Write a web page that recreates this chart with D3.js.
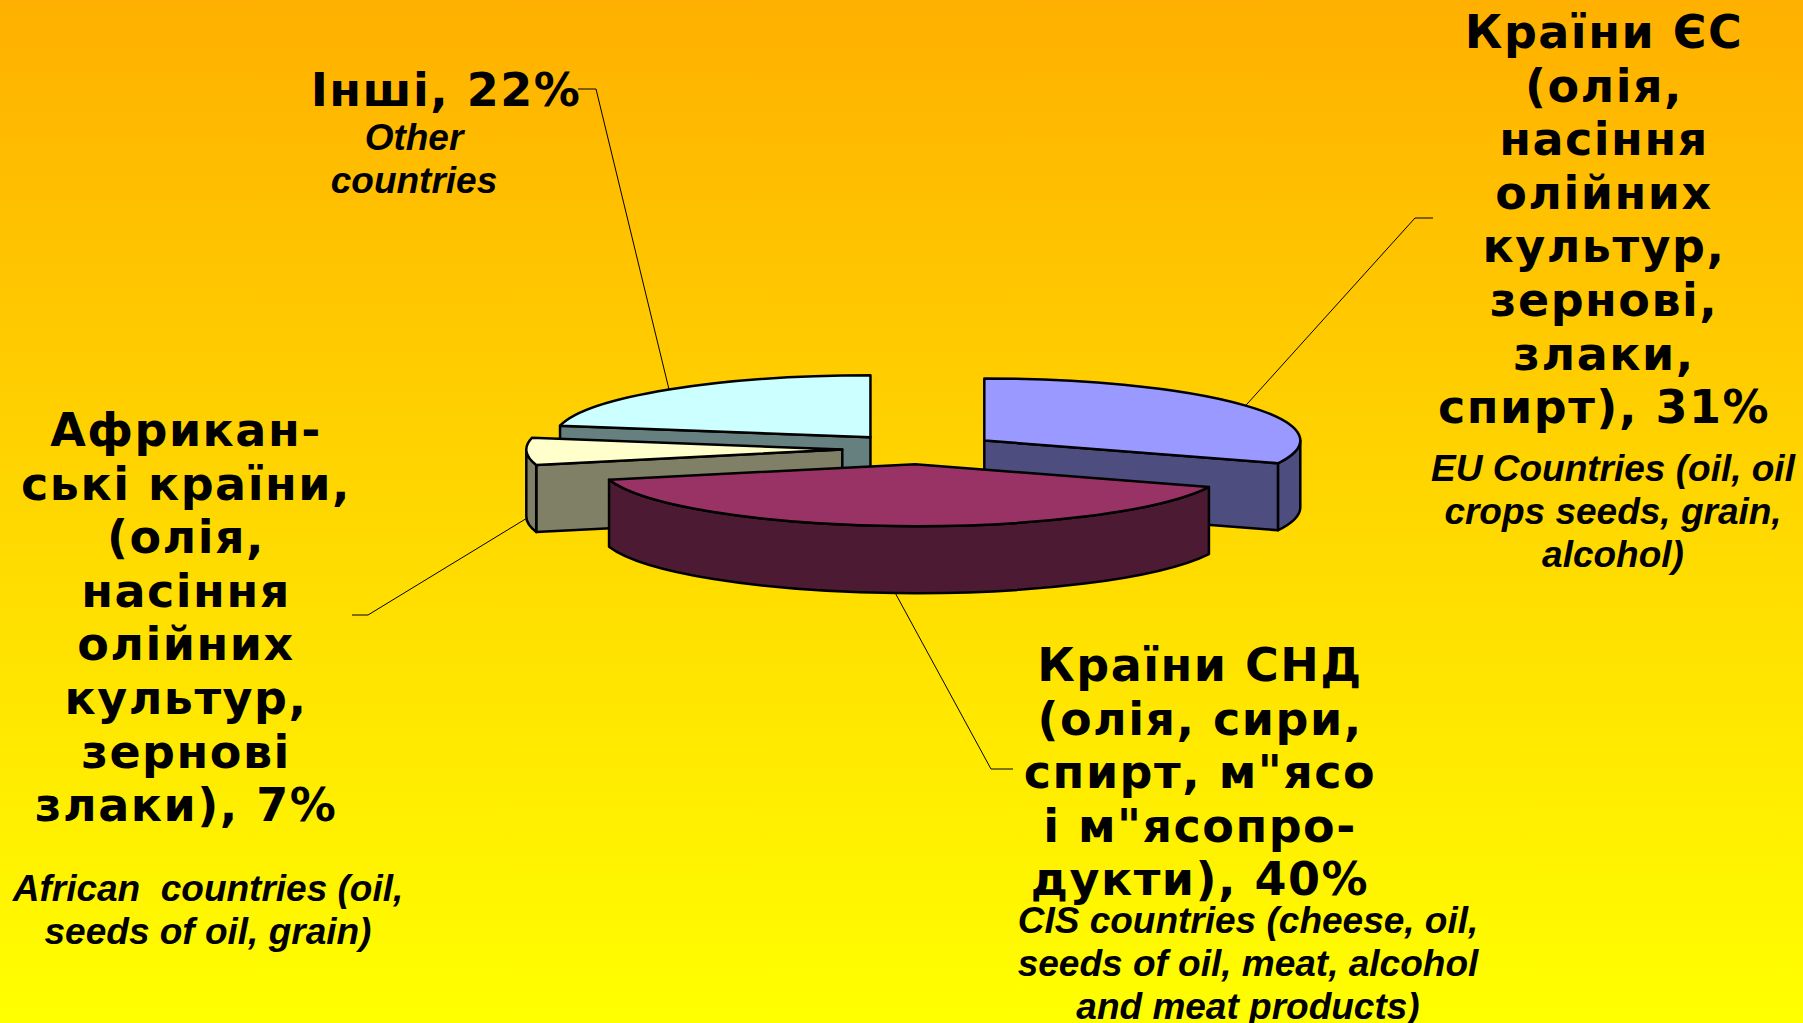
<!DOCTYPE html>
<html>
<head>
<meta charset="utf-8">
<script src="https://cdn.jsdelivr.net/npm/d3@7"></script>
<style>
  html, body { margin: 0; padding: 0; overflow: hidden; }
  .ua { font-family: "DejaVu Sans", sans-serif; font-weight: bold; font-size: 46px; letter-spacing: 1.5px; }
  .en { font-family: "Liberation Sans", Arial, sans-serif; font-weight: bold; font-style: italic; font-size: 37px; white-space: pre; }
</style>
</head>
<body>
<div id="chart"></div>
<script>
// export structure by country groups, %
var categories = ["Країни ЄС", "Країни СНД", "Африканські країни", "Інші"];
var shares = [31, 40, 7, 22];
var topColors = ["#9999FF", "#993366", "#FFFFCC", "#CCFFFF"];
var sideColors = ["#4D4D80", "#4D1A33", "#808066", "#668080"];

// label lines (percent is appended to the last line from shares)
var labelsUa = [
  ["Країни ЄС", "(олія,", "насіння", "олійних", "культур,", "зернові,", "злаки,", "спирт)"],
  ["Країни СНД", "(олія, сири,", "спирт, м\"ясо", "і м\"ясопро-", "дукти)"],
  ["Африкан-", "ські країни,", "(олія,", "насіння", "олійних", "культур,", "зернові", "злаки)"],
  ["Інші"]
];
var labelsEn = [
  ["EU Countries (oil, oil", "crops seeds, grain,", "alcohol)"],
  ["CIS countries (cheese, oil,", "seeds of oil, meat, alcohol", "and meat products)"],
  ["African  countries (oil,", "seeds of oil, grain)"],
  ["Other", "countries"]
];

// label placement
var layout = [
  {ux: 1604, uy: 48, ex: 1613, ey: 481, elbow: [[1433, 218], [1415, 218]]},
  {ux: 1200, uy: 681, ex: 1248, ey: 933, elbow: [[1013, 769], [991, 769]]},
  {ux: 186, uy: 446, ex: 208, ey: 901, elbow: [[352, 615], [368, 615]]},
  {ux: 446, uy: 106, ex: 414, ey: 150, elbow: [[578, 89], [596, 89]]}
];

var width = 1803, height = 1023;
var cx = 920, cy = 449, rx = 316, ry = 62, depth = 67, explode = 0.246;
var uaStep = 53.6, enStep = 43;

var svg = d3.select("#chart").append("svg")
    .attr("width", width)
    .attr("height", height);

var grad = svg.append("defs").append("linearGradient")
    .attr("id", "bg").attr("x1", 0).attr("y1", 0).attr("x2", 0).attr("y2", 1);
grad.append("stop").attr("offset", "0%").attr("stop-color", "#FFB000");
grad.append("stop").attr("offset", "100%").attr("stop-color", "#FFFF00");

svg.append("rect")
    .attr("width", width).attr("height", height)
    .attr("fill", "url(#bg)");

var pie = d3.pie().sort(null).value(function(d) { return d; });
var arcs = pie(shares);

function pt(c, a, r, h) {
  return [c[0] + r * rx * Math.sin(a), c[1] - r * ry * Math.cos(a) + h];
}

arcs.forEach(function(d, i) {
  var mid = (d.startAngle + d.endAngle) / 2;
  d.mid = mid;
  d.c = [cx + explode * rx * Math.sin(mid), cy - explode * ry * Math.cos(mid)];
  d.i = i;
});

// back slices first
var order = arcs.slice().sort(function(a, b) { return a.c[1] - b.c[1]; });

var pieG = svg.append("g");

order.forEach(function(d) {
  var g = pieG.append("g");
  var c = d.c, a0 = d.startAngle, a1 = d.endAngle;

  // radial faces
  [[a0, Math.sin(a0) < -1e-6], [a1, Math.sin(a1) > 1e-6]].forEach(function(f) {
    if (!f[1]) return;
    var p = pt(c, f[0], 1, 0);
    g.append("path")
        .attr("d", "M" + c + "L" + p + "L" + [p[0], p[1] + depth] + "L" + [c[0], c[1] + depth] + "Z")
        .attr("fill", sideColors[d.i])
        .attr("stroke", "#000").attr("stroke-width", 2.5).attr("stroke-linejoin", "round");
  });

  // outer wall
  var b0 = Math.max(a0, Math.PI / 2), b1 = Math.min(a1, 3 * Math.PI / 2);
  if (b0 < b1) {
    var t0 = pt(c, b0, 1, 0), t1 = pt(c, b1, 1, 0);
    var q0 = pt(c, b0, 1, depth), q1 = pt(c, b1, 1, depth);
    var lg = (b1 - b0) > Math.PI ? 1 : 0;
    g.append("path")
        .attr("d", "M" + t0 + "A" + rx + "," + ry + " 0 " + lg + " 1 " + t1 +
                   "L" + q1 + "A" + rx + "," + ry + " 0 " + lg + " 0 " + q0 + "Z")
        .attr("fill", sideColors[d.i])
        .attr("stroke", "#000").attr("stroke-width", 2.5).attr("stroke-linejoin", "round");
  }

  // top
  var p0 = pt(c, a0, 1, 0), p1 = pt(c, a1, 1, 0);
  var large = (a1 - a0) > Math.PI ? 1 : 0;
  g.append("path")
      .attr("d", "M" + c + "L" + p0 + "A" + rx + "," + ry + " 0 " + large + " 1 " + p1 + "Z")
      .attr("fill", topColors[d.i])
      .attr("stroke", "#000").attr("stroke-width", 2.5).attr("stroke-linejoin", "round");
});

// leader lines
arcs.forEach(function(d) {
  var front = Math.cos(d.mid) < 0;
  var anchor = pt(d.c, d.mid, 1, front ? depth : 0);
  var L = layout[d.i];
  svg.append("path")
      .attr("d", "M" + L.elbow[0] + "L" + L.elbow[1] + "L" + anchor)
      .attr("fill", "none")
      .attr("stroke", "#000").attr("stroke-width", 1);
});

// labels
arcs.forEach(function(d) {
  var i = d.i, L = layout[i];
  var ua = labelsUa[i].slice();
  ua[ua.length - 1] = ua[ua.length - 1] + ", " + shares[i] + "%";
  var t = svg.append("text").attr("class", "ua")
      .attr("text-anchor", "middle").attr("fill", "#000");
  ua.forEach(function(line, k) {
    t.append("tspan").attr("x", L.ux).attr("y", L.uy + k * uaStep).text(line);
  });
  var e = svg.append("text").attr("class", "en")
      .attr("text-anchor", "middle").attr("fill", "#000");
  labelsEn[i].forEach(function(line, k) {
    e.append("tspan").attr("x", L.ex).attr("y", L.ey + k * enStep).text(line);
  });
});
</script>
</body>
</html>
